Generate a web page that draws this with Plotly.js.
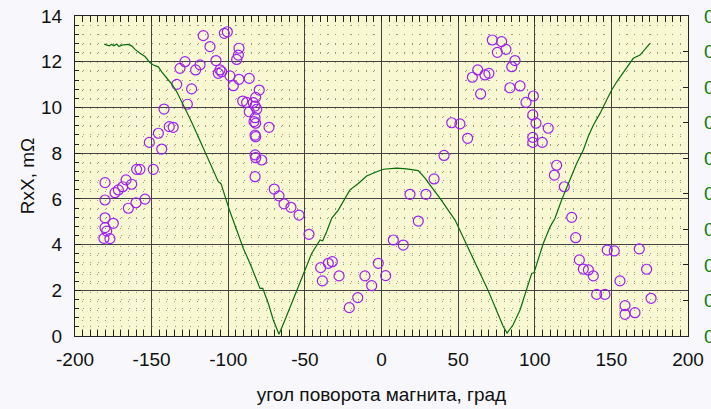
<!DOCTYPE html>
<html>
<head>
<meta charset="utf-8">
<script src="https://cdn.plot.ly/plotly-3.0.1.min.js"></script>
<style>
html,body{margin:0;padding:0;background:#f8f8fc;}
#chart{width:711px;height:409px;}
</style>
</head>
<body>
<div id="chart"></div>
<script>
// Measured points: rotation angle (deg) and RxX (mOhm)
const angleMeas = [-180.4,-180.4,-180.4,-180.4,-179.3,-181.1,-177.2,-175.0,-173.9,-171.7,-168.9,-166.7,-163.0,-165.2,-160.2,-154.3,-159.8,-157.6,-148.9,-151.5,-143.4,-145.6,-138.5,-135.9,-141.9,-126.7,-133.6,-123.9,-131.5,-128.2,-121.3,-118.4,-116.3,-111.9,-108.0,-105.4,-106.5,-104.3,-102.6,-100.6,-98.9,-96.7,-93.0,-93.4,-94.5,-93.0,-86.3,-79.8,-90.6,-88.0,-83.7,-82.1,-82.5,-81.4,-86.3,-82.5,-83.2,-82.1,-73.4,-82.5,-82.1,-82.5,-82.1,-78.2,-82.5,-70.0,-66.9,-63.6,-59.1,-53.8,-47.3,-39.7,-34.7,-32.1,-38.6,-27.7,-21.0,-15.5,-10.8,-6.4,-2.1,2.7,7.7,14.2,18.6,24.0,29.0,34.3,40.8,45.8,51.2,56.2,59.3,62.8,64.7,67.5,70.1,72.3,75.6,78.4,81.2,85.0,87.1,83.8,90.4,94.3,99.1,98.7,100.8,108.8,98.7,98.7,104.9,114.3,112.8,119.3,124.1,126.7,129.1,131.7,135.0,138.2,140.4,145.8,147.3,151.9,155.6,158.9,158.9,165.4,168.2,173.0,175.9];
const rxxMeas = [6.71,5.95,5.17,4.74,4.59,4.27,4.26,4.93,6.27,6.39,6.53,6.83,6.64,5.59,5.83,5.99,7.29,7.29,7.29,8.47,8.18,8.87,9.16,9.13,9.93,10.14,11.01,10.81,11.71,12.0,11.64,11.86,13.14,12.66,12.05,11.64,11.49,11.56,13.24,13.31,11.38,10.95,12.59,12.29,12.1,11.23,11.27,10.76,10.28,10.22,10.21,10.44,10.06,9.92,9.81,9.55,9.38,9.31,9.13,8.79,8.72,7.92,7.80,7.70,6.97,6.43,6.13,5.78,5.63,5.29,4.45,2.99,3.18,3.25,2.41,2.63,1.24,1.68,2.63,2.2,3.18,2.64,4.2,3.98,6.2,5.03,6.2,6.87,7.9,9.33,9.28,8.65,11.32,11.64,10.59,11.42,11.49,12.95,12.41,12.88,12.54,11.78,12.05,10.86,10.94,10.22,10.5,9.67,9.31,9.09,8.69,8.47,8.47,7.47,7.04,6.53,5.19,4.3,3.33,2.93,2.89,2.63,1.82,1.82,3.76,3.72,2.41,1.33,0.95,1.02,3.81,2.92,1.65];

// Reference curve on the right axis
const angleCurve = [-180.9,-179.1,-177.8,-176.1,-174.6,-172.8,-171.3,-169.5,-167.4,-165.2,-163.0,-160.8,-157.6,-154.3,-151.1,-148.9,-145.6,-143.4,-139.1,-136.9,-133.6,-129.3,-125.0,-120.6,-116.3,-113.0,-109.8,-106.5,-104.7,-101.0,-98.9,-94.5,-90.2,-85.8,-82.5,-79.3,-77.5,-73.9,-70.6,-66.9,-63.0,-58.6,-54.3,-49.9,-45.5,-40.1,-38.4,-35.8,-32.5,-28.2,-23.8,-20.6,-15.1,-9.7,-3.1,1.2,9.9,16.4,24.0,28.4,31.6,38.2,48.0,52.5,61.0,69.5,75.4,79.3,81.9,85.8,90.4,94.7,98.0,99.5,102.3,105.6,110.0,113.2,117.6,123.0,127.4,131.7,134.9,138.2,142.6,146.9,150.2,153.5,156.7,160.0,164.3,168.7,175.2];
const valueCurve = [0.821,0.819,0.816,0.820,0.816,0.821,0.814,0.818,0.820,0.820,0.816,0.806,0.795,0.786,0.769,0.762,0.757,0.743,0.720,0.709,0.687,0.650,0.612,0.570,0.528,0.495,0.467,0.434,0.428,0.378,0.350,0.298,0.247,0.204,0.167,0.134,0.134,0.092,0.045,0.005,0.045,0.092,0.139,0.190,0.233,0.270,0.268,0.293,0.331,0.354,0.387,0.411,0.429,0.450,0.462,0.469,0.472,0.470,0.465,0.444,0.425,0.387,0.326,0.284,0.208,0.129,0.068,0.028,0.008,0.031,0.073,0.129,0.176,0.178,0.214,0.261,0.307,0.331,0.383,0.439,0.486,0.523,0.561,0.593,0.626,0.664,0.692,0.715,0.734,0.757,0.781,0.790,0.823];

const xTickVals = [-200,-150,-100,-50,0,50,100,150,200];
const yTickVals = [0,2,4,6,8,10,12,14];

const font = {family: 'Liberation Sans, Arial, sans-serif', size: 19, color: '#111'};

const traces = [
  {x: angleCurve, y: valueCurve, yaxis: 'y2', mode: 'lines', type: 'scatter',
   line: {color: '#0a6e0a', width: 1.2}, hoverinfo: 'skip'},
  {x: angleMeas, y: rxxMeas, mode: 'markers', type: 'scatter',
   marker: {symbol: 'circle-open', size: 10, color: '#a020f0', line: {width: 1.2}}}
];

const layout = {
  width: 711, height: 409,
  margin: {l: 75, r: 23, t: 16, b: 73},
  paper_bgcolor: '#f8f8fc',
  plot_bgcolor: '#f8f8d2',
  showlegend: false,
  font: font,
  xaxis: {
    range: [-200, 200], tickvals: xTickVals, ticktext: xTickVals.map(String),
    ticks: 'inside', ticklen: 6, tickcolor: '#222',
    showline: true, linecolor: '#222', linewidth: 1, mirror: 'allticks',
    showgrid: true, gridcolor: '#444', gridwidth: 1,
    zeroline: false,
    minor: {dtick: 5, ticks: 'inside', ticklen: 4, tickcolor: '#222', showgrid: true, gridcolor: '#9a9a80', griddash: '1px,8.2px', gridwidth: 1},
    title: {text: 'угол поворота магнита, град', font: {family: font.family, size: 19, color: '#111'}, standoff: 18},
    ticklabelstandoff: 6
  },
  yaxis: {
    range: [0, 14], tickvals: yTickVals, ticktext: yTickVals.map(String),
    ticks: 'inside', ticklen: 6, tickcolor: '#222',
    showline: true, linecolor: '#222', linewidth: 1, mirror: true,
    showgrid: true, gridcolor: '#444', gridwidth: 1,
    zeroline: false,
    minor: {dtick: 0.4, ticks: 'inside', ticklen: 4, tickcolor: '#222', showgrid: true, gridcolor: '#9a9a80', griddash: '1px,6.66px', gridwidth: 1},
    title: {text: 'RxX, mΩ', font: {family: font.family, size: 19, color: '#111'}, standoff: 1},
    ticklabelstandoff: 8
  },
  yaxis2: {
    overlaying: 'y', side: 'right', range: [0, 0.9], dtick: 0.1,
    ticks: 'inside', ticklen: 5, tickcolor: '#222',
    showgrid: false, zeroline: false, showline: false,
    tickfont: {family: font.family, size: 19, color: '#0a7a0a'},
    ticklabelstandoff: 15
  }
};

Plotly.newPlot('chart', traces, layout, {displayModeBar: false, staticPlot: true});
</script>
</body>
</html>
